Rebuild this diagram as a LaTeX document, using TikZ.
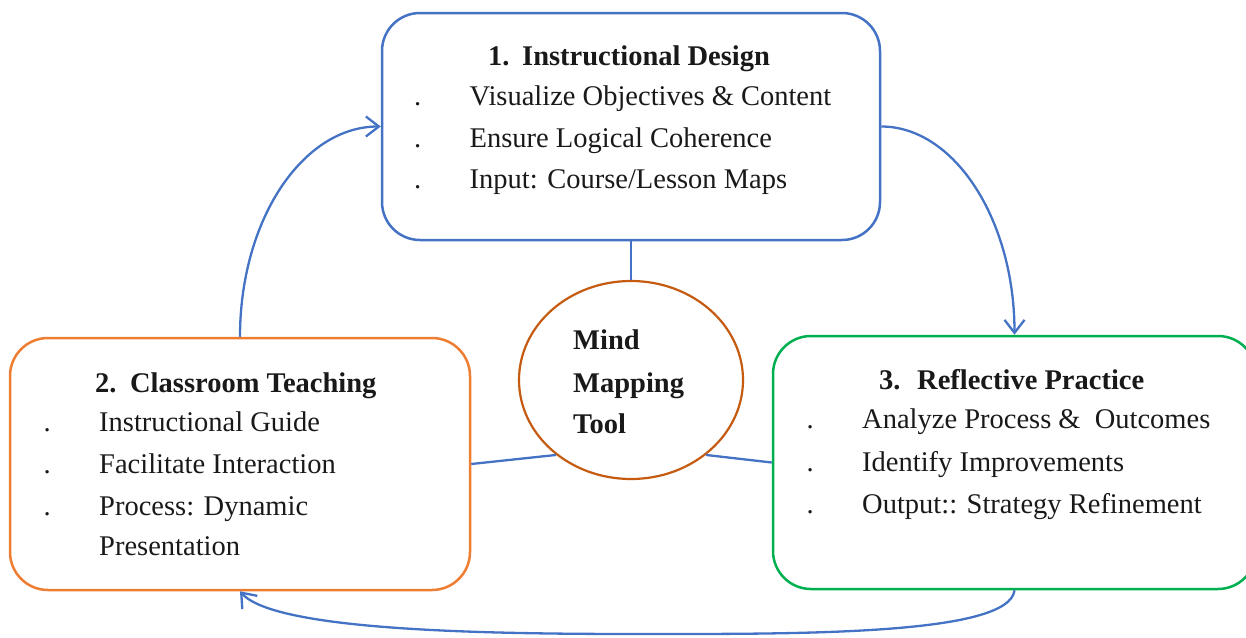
\documentclass[tikz,border=0pt]{standalone}
\usepackage{fontspec}
\setmainfont{Liberation Serif}
\usetikzlibrary{arrows.meta,shapes.geometric}
\definecolor{cblue}{HTML}{4472C4}
\definecolor{corange}{HTML}{ED7D31}
\definecolor{cgreen}{HTML}{00B050}
\definecolor{cbrown}{HTML}{C55A11}
\tikzset{
  card/.style={draw, line width=2.5pt, rounded corners=38pt, rectangle, inner sep=0pt},
  txt/.style={anchor=base west, inner sep=0pt, font=\fontsize{28.5}{34}\selectfont, text=black!90},
  ttl/.style={txt, font=\fontsize{28.5}{34}\selectfont\bfseries},
  link/.style={draw=cblue, line width=2.3pt},
  flow/.style={draw=cblue, line width=2.3pt, -{Straight Barb[length=13pt,width=20pt,line width=2.3pt]}}
}
\begin{document}
\begin{tikzpicture}[x=1pt,y=-1pt]
\useasboundingbox (0,0) rectangle (1246,637);
% boxes
\node[card, draw=cblue, minimum width=498pt, minimum height=227pt] (b1) at (631,126.5) {};
\node[card, draw=corange, minimum width=460pt, minimum height=252pt] (b2) at (240,464) {};
\node[card, draw=cgreen, minimum width=483pt, minimum height=253pt] (b3) at (1014.5,462.5) {};
\node[draw=cbrown, line width=2.2pt, ellipse, minimum width=224pt, minimum height=198pt, inner sep=0pt] (ell) at (631,380) {};
% box 1 text
\node[ttl] (t1) at (488,65) {1.\hspace{12.6pt}Instructional Design};
\node[txt] (d11) at (414,105) {.};
\node[txt] (d12) at (414,147) {.};
\node[txt] (d13) at (414,188) {.};
\node[txt] (l11) at (469.5,105) {Visualize Objectives \& Content};
\node[txt] (l12) at (469.5,147) {Ensure Logical Coherence};
\node[txt] (l13) at (469.5,188) {Input: Course/Lesson Maps};
% box 2 text
\node[ttl] (t2) at (95,392) {2.\hspace{13.6pt}Classroom Teaching};
\node[txt] (d21) at (43.5,431) {.};
\node[txt] (d22) at (43.5,473) {.};
\node[txt] (d23) at (43.5,515) {.};
\node[txt] (l21) at (99,431) {Instructional Guide};
\node[txt] (l22) at (99,473) {Facilitate Interaction};
\node[txt] (l23) at (99,515) {Process: Dynamic};
\node[txt] (l24) at (99,555) {Presentation};
% box 3 text
\node[ttl] (t3) at (879,389) {3.\hspace{16.6pt}Reflective Practice};
\node[txt] (d31) at (806.5,428) {.};
\node[txt] (d32) at (806.5,471) {.};
\node[txt] (d33) at (806.5,513) {.};
\node[txt] (l31) at (862,428) {Analyze Process \&\hspace{7pt} Outcomes};
\node[txt] (l32) at (862,471) {Identify Improvements};
\node[txt] (l33) at (862,513) {Output:: Strategy Refinement};
% ellipse text
\node[ttl] (m1) at (573,349) {Mind};
\node[ttl] (m2) at (573,392) {Mapping};
\node[ttl] (m3) at (573,433) {Tool};
% links
\draw[link] (b1.south) -- (ell.north);
\draw[link] (ell.225) -- (b2.east);
\draw[link] (ell.315) -- (b3.west);
% cycle arrows
\coordinate (low) at (640,634);
\draw[flow] (b2.north) .. controls +(0,-117) and +(-78,0) .. (b1.west);
\draw[flow] (b1.east) .. controls +(73,0) and +(0,-115) .. (b3.north);
\draw[flow] (b3.south) .. controls +(-5,45) and +(160,0) .. (low)
  .. controls +(-150,0) and +(35,40) .. (b2.south);
\end{tikzpicture}
\end{document}
